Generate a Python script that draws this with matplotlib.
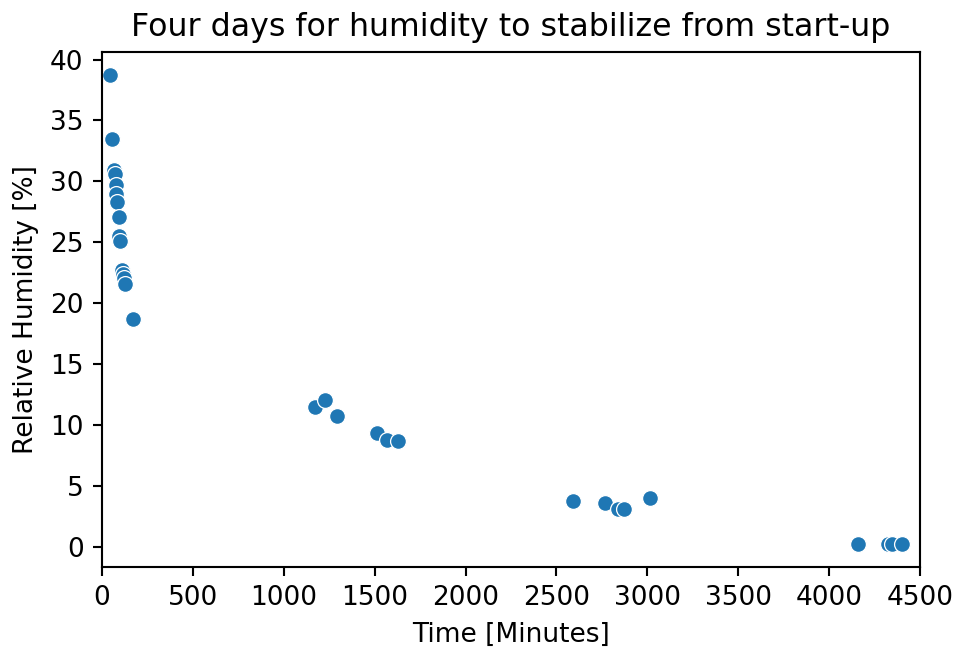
import matplotlib
matplotlib.use("Agg")
import matplotlib.pyplot as plt
import seaborn as sns
import pandas as pd

# Time since start-up [min] and relative humidity [%]
minutes = [44, 55, 68, 71, 75, 79, 84, 93, 96, 100, 112, 117, 123, 127, 172,
           1172, 1227, 1291, 1511, 1566, 1626,
           2589, 2767, 2840, 2871, 3014,
           4160, 4325, 4344, 4399]
humidity = [38.7, 33.5, 30.9, 30.6, 29.7, 29.0, 28.3, 27.1, 25.5, 25.1, 22.7, 22.4, 22.1, 21.6, 18.7,
            11.5, 12.1, 10.8, 9.4, 8.8, 8.7,
            3.8, 3.6, 3.1, 3.1, 4.0,
            0.3, 0.3, 0.3, 0.3]

df = pd.DataFrame({"Time": minutes, "RH": humidity})

DPI = 190
fig = plt.figure(figsize=(958 / DPI, 648 / DPI), dpi=DPI)
ax = fig.add_axes([0.1065, 0.125, 0.8538, 0.7948])
sns.scatterplot(data=df, x="Time", y="RH", ax=ax)
ax.set_xlim(0, 4500)
ax.set_xlabel("Time [Minutes]")
ax.set_ylabel("Relative Humidity [%]")
ax.set_title("Four days for humidity to stabilize from start-up")

fig.savefig("out.png", dpi=DPI)
